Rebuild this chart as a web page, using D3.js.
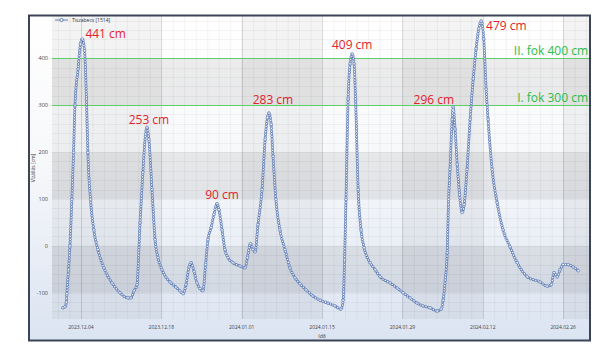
<!DOCTYPE html>
<html>
<head>
<meta charset="utf-8">
<script src="https://cdn.jsdelivr.net/npm/d3@7"></script>
<style>
  body { margin: 0; background: #fff; }
  svg { display: block; font-family: "Open Sans", "Noto Sans", sans-serif; }
</style>
</head>
<body>
<svg id="chart"></svg>
<script>
const width = 613;
const height = 351;

// vízállás adatok (Tiszabecs)
const times = [
  "2023-11-30 21", "2023-12-01 05", "2023-12-01 11", "2023-12-01 13", "2023-12-01 20",
  "2023-12-02 02", "2023-12-02 10", "2023-12-02 17", "2023-12-02 23", "2023-12-03 12",
  "2023-12-03 22", "2023-12-04 06", "2023-12-04 15", "2023-12-04 23", "2023-12-05 05",
  "2023-12-05 16", "2023-12-06 06", "2023-12-06 23", "2023-12-08 00", "2023-12-09 10",
  "2023-12-10 19", "2023-12-12 05", "2023-12-12 17", "2023-12-13 06", "2023-12-13 18",
  "2023-12-14 07", "2023-12-14 19", "2023-12-15 06", "2023-12-15 12", "2023-12-15 20",
  "2023-12-16 09", "2023-12-16 22", "2023-12-17 10", "2023-12-18 03", "2023-12-19 12",
  "2023-12-20 13", "2023-12-21 06", "2023-12-21 19", "2023-12-22 07", "2023-12-22 20",
  "2023-12-23 04", "2023-12-23 17", "2023-12-24 05", "2023-12-24 18", "2023-12-25 06",
  "2023-12-25 17", "2023-12-26 03", "2023-12-26 16", "2023-12-27 04", "2023-12-27 17",
  "2023-12-28 01", "2023-12-28 14", "2023-12-29 02", "2023-12-29 15", "2023-12-30 12",
  "2023-12-31 17", "2024-01-01 14", "2024-01-02 00", "2024-01-02 13", "2024-01-02 23",
  "2024-01-03 08", "2024-01-03 20", "2024-01-04 13", "2024-01-05 02", "2024-01-05 12",
  "2024-01-05 18", "2024-01-06 03", "2024-01-06 11", "2024-01-06 23", "2024-01-07 16",
  "2024-01-08 13", "2024-01-09 10", "2024-01-10 07", "2024-01-11 04", "2024-01-12 05",
  "2024-01-13 10", "2024-01-14 16", "2024-01-16 01", "2024-01-17 06", "2024-01-18 07",
  "2024-01-18 16", "2024-01-18 22", "2024-01-19 04", "2024-01-19 13", "2024-01-19 21",
  "2024-01-20 06", "2024-01-20 14", "2024-01-20 20", "2024-01-21 07", "2024-01-21 19",
  "2024-01-22 08", "2024-01-23 09", "2024-01-24 06", "2024-01-25 03", "2024-01-26 20",
  "2024-01-28 02", "2024-01-29 03", "2024-01-30 08", "2024-01-31 13", "2024-02-01 14",
  "2024-02-02 20", "2024-02-04 01", "2024-02-04 18", "2024-02-05 02", "2024-02-05 11",
  "2024-02-05 19", "2024-02-06 01", "2024-02-06 07", "2024-02-06 16", "2024-02-06 20",
  "2024-02-07 04", "2024-02-07 13", "2024-02-07 23", "2024-02-08 10", "2024-02-08 18",
  "2024-02-09 06", "2024-02-09 19", "2024-02-10 08", "2024-02-10 20", "2024-02-11 07",
  "2024-02-11 17", "2024-02-12 04", "2024-02-12 14", "2024-02-12 22", "2024-02-13 15",
  "2024-02-14 12", "2024-02-15 13", "2024-02-16 18", "2024-02-18 00", "2024-02-19 18",
  "2024-02-22 00", "2024-02-23 05", "2024-02-23 22", "2024-02-24 10", "2024-02-24 23",
  "2024-02-25 11", "2024-02-26 00", "2024-02-26 21", "2024-02-27 18", "2024-02-28 15"
];
const levels = [
  -132, -130, -120, -102, -51,
  0, 99, 199, 300, 377,
  430, 441, 416, 313, 199,
  99, 34, -8, -47, -79,
  -100, -111, -111, -96, -83,
  49, 157, 238, 253, 227,
  120, 13, -25, -51, -77,
  -88, -96, -102, -83, -45,
  -36, -55, -79, -91, -96,
  -40, 13, 39, 67, 90,
  77, 34, -8, -25, -36,
  -43, -47, -25, 5, -8,
  -13, 45, 120, 227, 274,
  283, 259, 191, 99, 34,
  -8, -47, -68, -81, -94,
  -107, -116, -122, -128, -135,
  -116, -30, 99, 313, 388,
  409, 388, 313, 120, 34,
  -4, -36, -51, -66, -79,
  -90, -100, -111, -122, -128,
  -132, -139, -135, -116, -73,
  -15, 99, 163, 270, 296,
  249, 174, 109, 71, 88,
  163, 270, 356, 420, 463,
  479, 441, 334, 270, 163,
  92, 34, -2, -36, -66,
  -77, -86, -83, -57, -66,
  -51, -40, -40, -45, -53
];

// tetőzések
const peakTimes = ["2023-12-04 06", "2023-12-15 12", "2023-12-27 17", "2024-01-05 18",
                   "2024-01-20 06", "2024-02-06 20", "2024-02-11 17"];
const peakLabels = ["441 cm", "253 cm", "90 cm", "283 cm", "409 cm", "296 cm", "479 cm"];
const peakValues = [441, 253, 90, 283, 409, 296, 479];
// felirat eltolás [dx, dy, anchor]
const peakOffsets = [[3, -1, "start"], [2, -3, "middle"], [5, -5, "middle"], [4, -9, "middle"],
                     [0, -5, "middle"], [1, -3, "end"], [5, 9, "start"]];

// árvízvédelmi fokozatok
const alarmLevels = [400, 300];
const alarmLabels = ["II. fok 400 cm", "I. fok 300 cm"];

const yTicks = [-100, 0, 100, 200, 300, 400];
const seriesName = "Tiszabecs [1514]";

const parse = d3.timeParse("%Y-%m-%d %H");
const data = times.map((t, i) => ({ date: parse(t), value: levels[i] }));

const svg = d3.select("#chart").attr("width", width).attr("height", height);

const plot = { left: 52, right: 589, top: 16, bottom: 319 };

const x = d3.scaleTime()
  .domain([new Date(2023, 10, 28, 23), new Date(2024, 2, 1, 12)])
  .range([plot.left, plot.right]);
const y = d3.scaleLinear().domain([-156, 490]).range([plot.bottom, plot.top]);

// háttér színátmenet
const defs = svg.append("defs");
const grad = defs.append("linearGradient").attr("id", "bg")
  .attr("x1", 0).attr("y1", 0).attr("x2", 0).attr("y2", 1);
grad.append("stop").attr("offset", "0%").attr("stop-color", "#ffffff");
grad.append("stop").attr("offset", "45%").attr("stop-color", "#f7f8fa");
grad.append("stop").attr("offset", "100%").attr("stop-color", "#dbe4f2");
defs.append("clipPath").attr("id", "clip").append("rect")
  .attr("x", plot.left).attr("y", plot.top)
  .attr("width", plot.right - plot.left).attr("height", plot.bottom - plot.top);

svg.append("rect")
  .attr("x", 29).attr("y", 15.5).attr("width", 561).attr("height", 325)
  .attr("fill", "url(#bg)");

const g = svg.append("g").attr("clip-path", "url(#clip)");

// sávok
const dayTicks = d3.timeDay.range(new Date(2023, 11, 4), new Date(2024, 2, 2), 14);
const colEdges = [x.domain()[0], ...dayTicks, x.domain()[1]];
d3.pairs(colEdges).forEach(([a, b], i) => {
  if (i % 2 === 1 || i === 0) {
    g.append("rect").attr("x", x(a)).attr("y", plot.top)
      .attr("width", x(b) - x(a)).attr("height", plot.bottom - plot.top)
      .attr("fill", "#000").attr("opacity", 0.045);
  }
});
const rowEdges = [-156, -100, 0, 100, 200, 300, 400, 490];
d3.pairs(rowEdges).forEach(([a, b], i) => {
  if (i % 2 === 1) {
    g.append("rect").attr("x", plot.left).attr("y", y(b))
      .attr("width", plot.right - plot.left).attr("height", y(a) - y(b))
      .attr("fill", "#000").attr("opacity", 0.065);
  }
});

// rácsvonalak
g.selectAll("line.vminor")
  .data(d3.timeDay.range(new Date(2023, 10, 30), new Date(2024, 2, 2), 2))
  .join("line").attr("class", "vminor")
  .attr("x1", d => x(d) + 0.5).attr("x2", d => x(d) + 0.5)
  .attr("y1", plot.top).attr("y2", plot.bottom)
  .attr("stroke", "#000").attr("stroke-opacity", 0.045);
g.selectAll("line.hminor")
  .data(d3.range(-140, 490, 20))
  .join("line").attr("class", "hminor")
  .attr("x1", plot.left).attr("x2", plot.right)
  .attr("y1", d => Math.round(y(d)) + 0.5).attr("y2", d => Math.round(y(d)) + 0.5)
  .attr("stroke", "#000").attr("stroke-opacity", 0.04);
g.selectAll("line.vmajor")
  .data(dayTicks)
  .join("line").attr("class", "vmajor")
  .attr("x1", d => Math.round(x(d)) + 0.5).attr("x2", d => Math.round(x(d)) + 0.5)
  .attr("y1", plot.top).attr("y2", plot.bottom)
  .attr("stroke", "#000").attr("stroke-opacity", 0.1);

// fokozat vonalak
g.selectAll("line.alarm")
  .data(alarmLevels)
  .join("line").attr("class", "alarm")
  .attr("x1", plot.left).attr("x2", plot.right)
  .attr("y1", d => Math.round(y(d)) + 0.5).attr("y2", d => Math.round(y(d)) + 0.5)
  .attr("stroke", "#5ccf6a").attr("stroke-width", 1);

// görbe
const line = d3.line()
  .x(d => x(d.date)).y(d => y(d.value))
  .curve(d3.curveMonotoneX);

g.append("path").datum(data)
  .attr("d", line).attr("fill", "none")
  .attr("stroke", "#5f7cb4").attr("stroke-width", 3.1)
  .attr("stroke-linecap", "round").attr("stroke-dasharray", "0 2.7");
g.append("path").datum(data)
  .attr("d", line).attr("fill", "none")
  .attr("stroke", "#f1f4fa").attr("stroke-width", 1.6)
  .attr("stroke-linecap", "round").attr("stroke-dasharray", "0 2.7");
g.selectAll("circle.pt")
  .data(data)
  .join("circle").attr("class", "pt")
  .attr("cx", d => x(d.date)).attr("cy", d => y(d.value)).attr("r", 1.3)
  .attr("fill", "#f1f4fa").attr("stroke", "#5f7cb4").attr("stroke-width", 0.7);

// fokozat feliratok
svg.selectAll("text.alarm")
  .data(alarmLevels)
  .join("text").attr("class", "alarm")
  .attr("x", plot.right - 1).attr("y", d => y(d) - 3)
  .attr("text-anchor", "end")
  .attr("font-size", 12).attr("fill", "#2dbd48")
  .text((d, i) => alarmLabels[i]);

// tetőzés feliratok
svg.selectAll("text.peak")
  .data(peakTimes)
  .join("text").attr("class", "peak")
  .attr("x", (d, i) => x(parse(d)) + peakOffsets[i][0])
  .attr("y", (d, i) => y(peakValues[i]) + peakOffsets[i][1])
  .attr("text-anchor", (d, i) => peakOffsets[i][2])
  .attr("font-size", 12).attr("fill", "#e3222c")
  .text((d, i) => peakLabels[i]);

// tengelyek
svg.selectAll("text.ytick")
  .data(yTicks)
  .join("text").attr("class", "ytick")
  .attr("x", 48).attr("y", d => y(d) + 2)
  .attr("text-anchor", "end")
  .attr("font-size", 5.5).attr("fill", "#444")
  .text(d => d);

const fmt = d3.timeFormat("%Y.%m.%d");
svg.selectAll("text.xtick")
  .data(dayTicks)
  .join("text").attr("class", "xtick")
  .attr("x", d => x(d)).attr("y", 329)
  .attr("text-anchor", "middle")
  .attr("font-size", 5).attr("fill", "#444")
  .text(d => fmt(d));

svg.append("text")
  .attr("transform", "translate(35,168) rotate(-90)")
  .attr("text-anchor", "middle")
  .attr("font-size", 5).attr("fill", "#333")
  .text("Vízállás [cm]");

svg.append("text")
  .attr("x", 322).attr("y", 338)
  .attr("text-anchor", "middle")
  .attr("font-size", 5).attr("fill", "#333")
  .text("Idő");

// jelmagyarázat
const legend = svg.append("g").attr("transform", "translate(55,20)");
legend.append("line").attr("x1", 0).attr("x2", 13).attr("y1", 0).attr("y2", 0)
  .attr("stroke", "#46649f").attr("stroke-width", 0.8);
legend.append("circle").attr("cx", 6.5).attr("cy", 0).attr("r", 1.6)
  .attr("fill", "#fff").attr("stroke", "#46649f").attr("stroke-width", 0.8);
legend.append("text").attr("x", 17).attr("y", 1.7)
  .attr("font-size", 5).attr("fill", "#333")
  .text(seriesName);

// keret
svg.append("rect")
  .attr("x", 29).attr("y", 15.5).attr("width", 561).attr("height", 325)
  .attr("fill", "none").attr("stroke", "#3b4557").attr("stroke-width", 2);
</script>
</body>
</html>
